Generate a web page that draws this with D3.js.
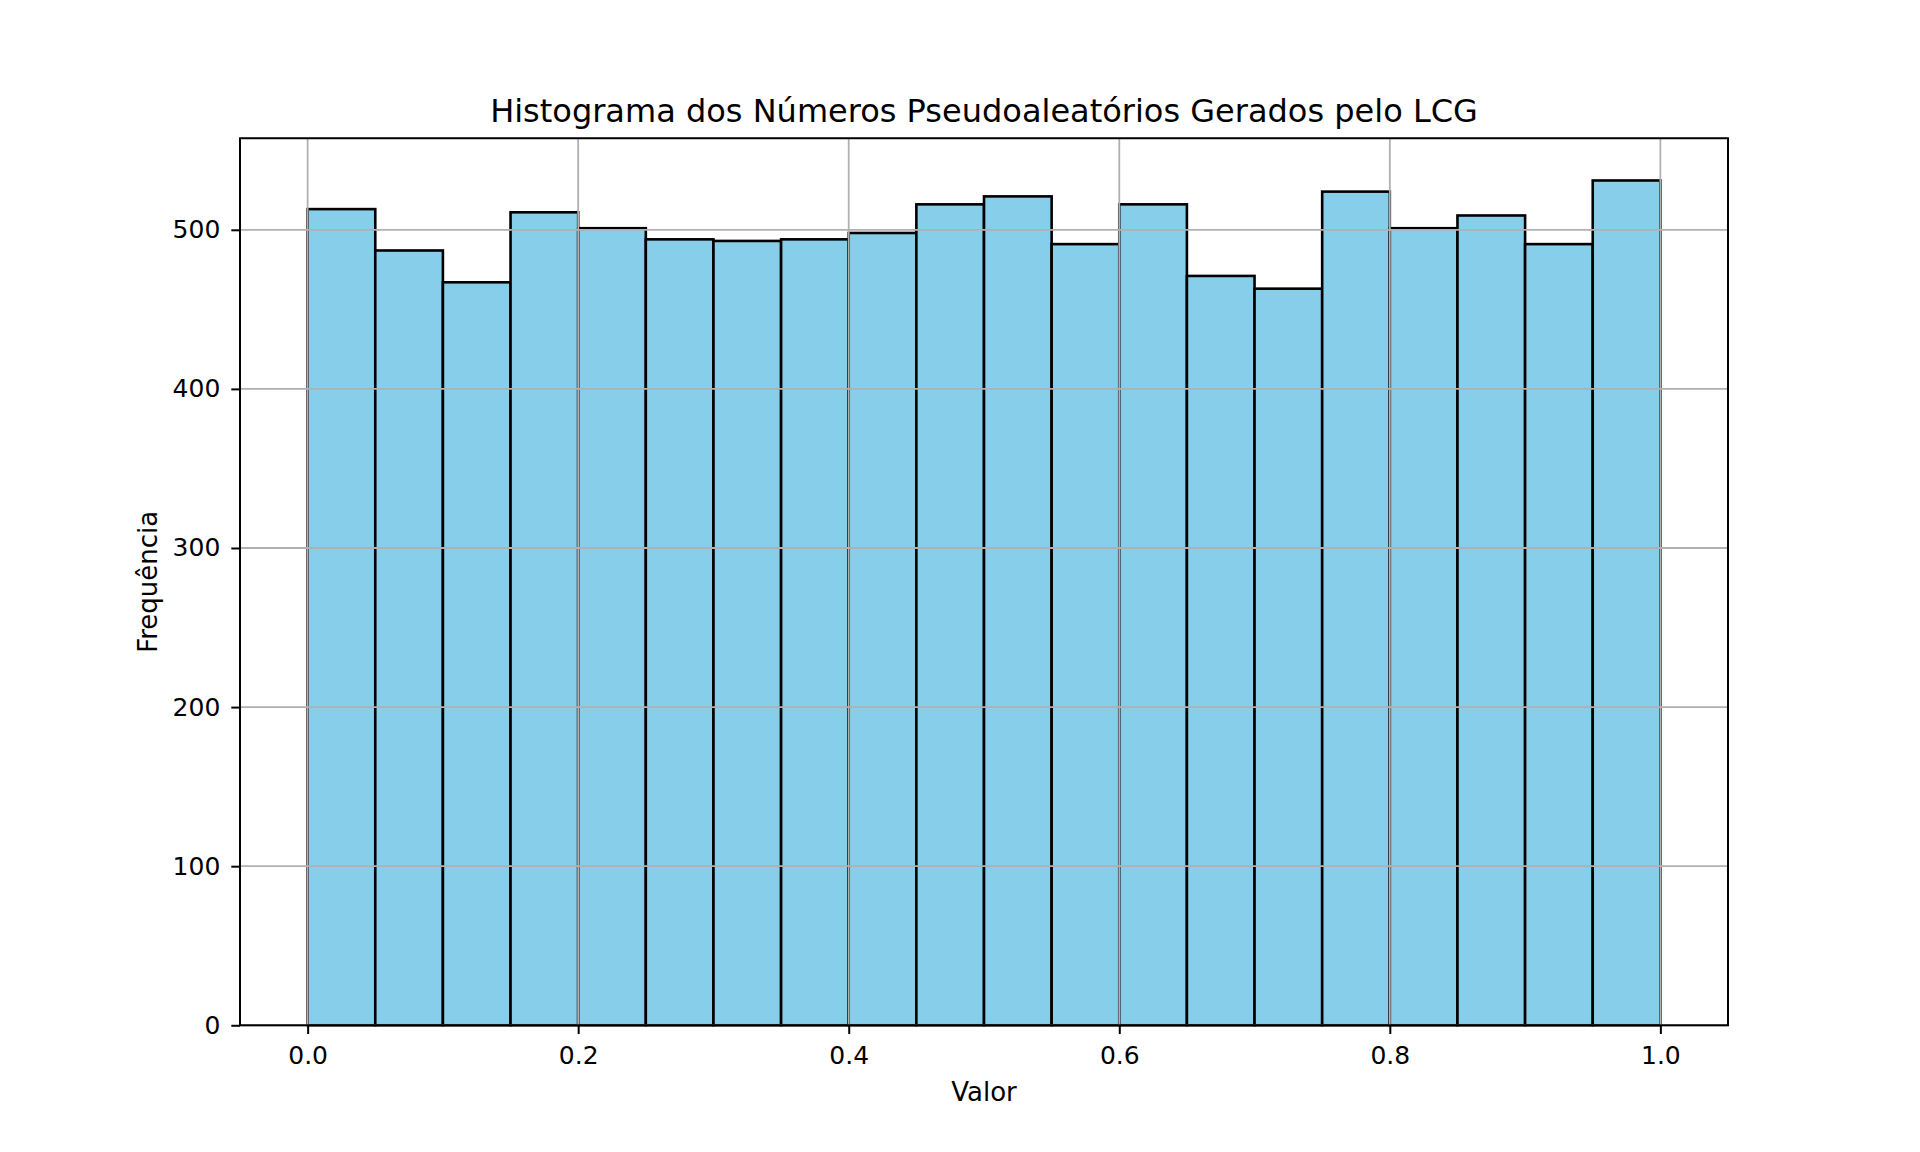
<!DOCTYPE html>
<html>
<head>
<meta charset="utf-8">
<script src="https://cdn.jsdelivr.net/npm/d3@7"></script>
<style>
  body { margin: 0; background: #fff; }
  svg { font-family: "DejaVu Sans", sans-serif; }
</style>
</head>
<body>
<div id="chart"></div>
<script>
// histogram bins (left edges) and counts
var binEdges = [0.00, 0.05, 0.10, 0.15, 0.20, 0.25, 0.30, 0.35, 0.40, 0.45,
                0.50, 0.55, 0.60, 0.65, 0.70, 0.75, 0.80, 0.85, 0.90, 0.95, 1.00];
var counts = [513, 487, 467, 511, 501, 494, 493, 494, 498, 516,
              521, 491, 516, 471, 463, 524, 501, 509, 491, 531];
var xTicks = [0.0, 0.2, 0.4, 0.6, 0.8, 1.0];
var yTicks = [0, 100, 200, 300, 400, 500];

var title = "Histograma dos Números Pseudoaleatórios Gerados pelo LCG";
var xLabel = "Valor";
var yLabel = "Frequência";

// figure layout (matplotlib-like)
var W = 1920, H = 1152;
var margin = {top: 138.24, right: 192, bottom: 126.72, left: 240},
    width = W - margin.left - margin.right,
    height = H - margin.top - margin.bottom;

var svg = d3.select("#chart")
  .append("svg")
    .attr("width", W)
    .attr("height", H)
  .append("g")
    .attr("transform", "translate(" + margin.left + "," + margin.top + ")");

var bins = counts.map(function(c, i) {
  return {x0: binEdges[i], x1: binEdges[i + 1], n: c};
});

var x = d3.scaleLinear()
  .domain([-0.05, 1.05])
  .range([0, width]);

var yMax = d3.max(counts) * 1.05;
var y = d3.scaleLinear()
  .domain([0, yMax])
  .range([height, 0]);

// Bars
svg.selectAll("rect.bar")
  .data(bins)
  .enter()
  .append("rect")
    .attr("class", "bar")
    .attr("x", function(d) { return x(d.x0); })
    .attr("y", function(d) { return y(d.n); })
    .attr("width", function(d) { return x(d.x1) - x(d.x0); })
    .attr("height", function(d) { return y(0) - y(d.n); })
    .attr("fill", "#87ceeb")
    .attr("stroke", "#000")
    .attr("stroke-width", 2.6);

// grid (above the bars, as in matplotlib)
var grid = svg.append("g").attr("class", "grid");
grid.selectAll("line.vx")
  .data(xTicks)
  .enter().append("line")
    .attr("x1", function(d) { return x(d); })
    .attr("x2", function(d) { return x(d); })
    .attr("y1", 0)
    .attr("y2", height)
    .attr("stroke", "#b0b0b0")
    .attr("stroke-width", 1.8);
grid.selectAll("line.hy")
  .data(yTicks)
  .enter().append("line")
    .attr("x1", 0)
    .attr("x2", width)
    .attr("y1", function(d) { return y(d); })
    .attr("y2", function(d) { return y(d); })
    .attr("stroke", "#b0b0b0")
    .attr("stroke-width", 1.8);

// X axis
var xAxis = svg.append("g")
  .attr("transform", "translate(0," + height + ")")
  .call(d3.axisBottom(x)
    .tickValues(xTicks)
    .tickFormat(d3.format(".1f"))
    .tickSize(8.7)
    .tickPadding(12));
xAxis.select(".domain").remove();
xAxis.selectAll("line").attr("stroke", "#000").attr("stroke-width", 2);
xAxis.selectAll("text")
  .attr("font-family", "DejaVu Sans")
  .attr("font-size", 25)
  .attr("fill", "#000");

// Y axis
var yAxis = svg.append("g")
  .call(d3.axisLeft(y)
    .tickValues(yTicks)
    .tickSize(8.7)
    .tickPadding(11));
yAxis.select(".domain").remove();
yAxis.selectAll("line").attr("stroke", "#000").attr("stroke-width", 2);
yAxis.selectAll("text")
  .attr("font-family", "DejaVu Sans")
  .attr("font-size", 25)
  .attr("fill", "#000");

// frame
svg.append("rect")
  .attr("x", 0)
  .attr("y", 0)
  .attr("width", width)
  .attr("height", height)
  .attr("fill", "none")
  .attr("stroke", "#000")
  .attr("stroke-width", 2);

// title and labels
svg.append("text")
  .attr("x", width / 2)
  .attr("y", -16)
  .attr("text-anchor", "middle")
  .attr("font-size", 32)
  .attr("fill", "#000")
  .text(title);

svg.append("text")
  .attr("x", width / 2)
  .attr("y", height + 75.5)
  .attr("text-anchor", "middle")
  .attr("font-size", 26)
  .attr("fill", "#000")
  .text(xLabel);

svg.append("text")
  .attr("transform", "translate(" + (156.5 - margin.left) + "," + (height / 2) + ") rotate(-90)")
  .attr("text-anchor", "middle")
  .attr("font-size", 26)
  .attr("fill", "#000")
  .text(yLabel);
</script>
</body>
</html>
